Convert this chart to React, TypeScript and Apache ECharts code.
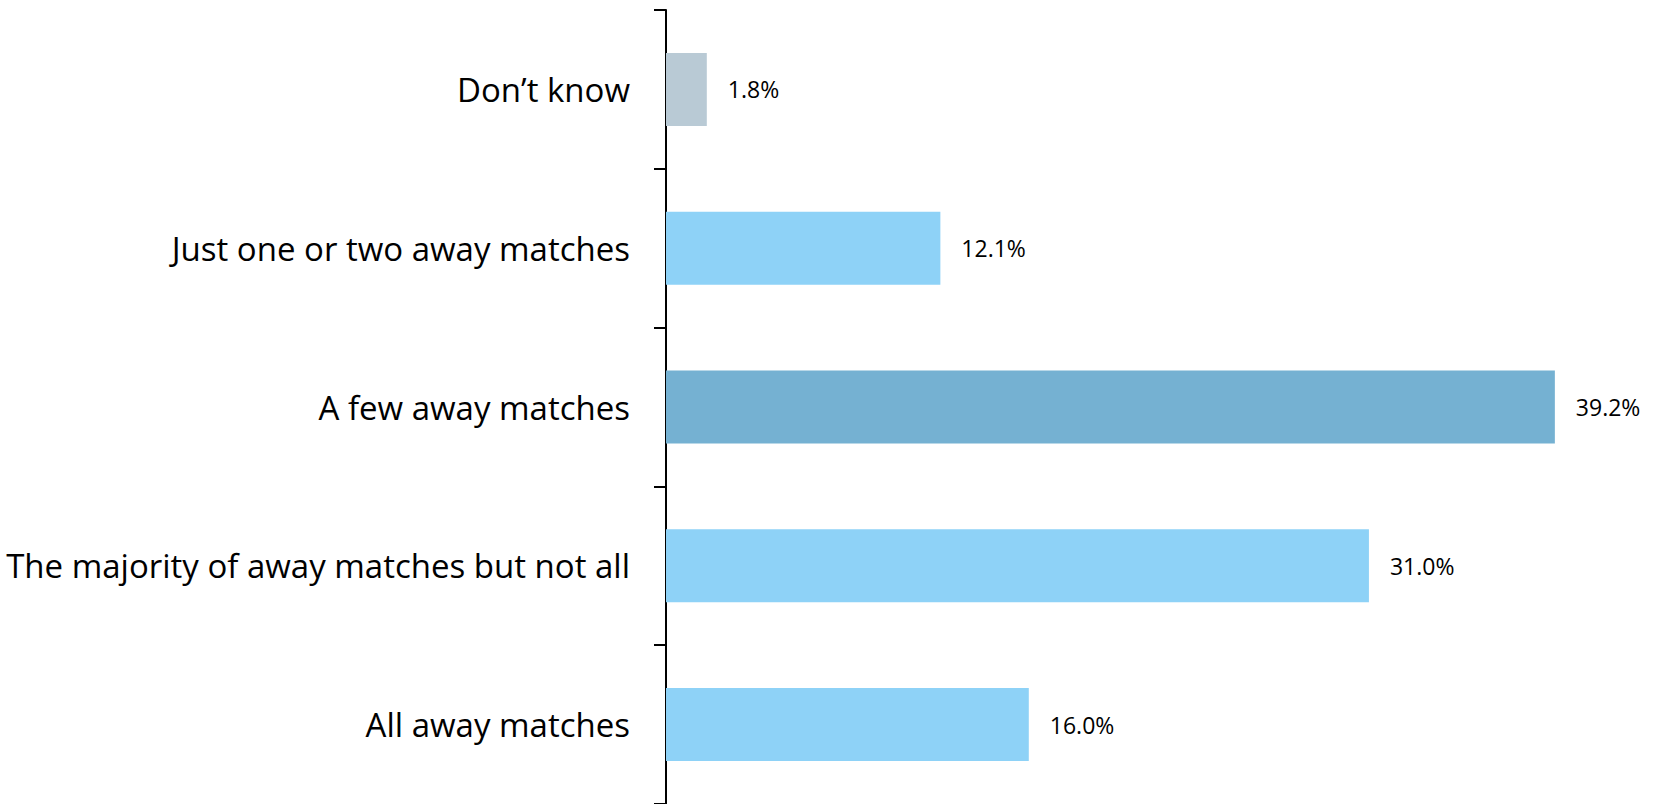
import React, { useEffect, useRef } from "react";
import * as echarts from "echarts";

const categories = [
  "Don’t know",
  "Just one or two away matches",
  "A few away matches",
  "The majority of away matches but not all",
  "All away matches",
];
const values = [1.8, 12.1, 39.2, 31.0, 16.0];
const barColors = ["#B9CAD5", "#8ED2F7", "#75B1D2", "#8ED2F7", "#8ED2F7"];

export default function App() {
  const ref = useRef<HTMLDivElement>(null);
  useEffect(() => {
    if (!ref.current) return;
    const chart = echarts.init(ref.current, null, { renderer: "svg" });
    chart.setOption({
      animation: false,
      backgroundColor: "#ffffff",
      grid: { left: 666, top: 10, bottom: 0, right: 84, containLabel: false },
      xAxis: {
        type: "value",
        min: 0,
        max: 40,
        show: false,
        splitLine: { show: false },
      },
      yAxis: {
        type: "category",
        inverse: true,
        data: categories,
        axisLine: { show: true, lineStyle: { color: "#000000", width: 2 } },
        axisTick: { show: true, length: 12, lineStyle: { color: "#000000", width: 2 } },
        axisLabel: {
          margin: 36,
          color: "#000000",
          fontFamily: "Open Sans",
          fontSize: 33,
        },
        splitLine: { show: false },
      },
      series: [
        {
          type: "bar",
          barWidth: 73,
          data: values.map((v, i) => ({ value: v, itemStyle: { color: barColors[i] } })),
          label: {
            show: true,
            position: "right",
            distance: 21,
            color: "#000000",
            fontFamily: "Open Sans",
            fontSize: 23,
            formatter: (p: any) => p.value.toFixed(1) + "%",
          },
        },
      ],
    });
    return () => chart.dispose();
  }, []);
  return (
    <div
      ref={ref}
      style={{ position: "absolute", left: 0, top: 0, width: 1657, height: 804 }}
    />
  );
}
